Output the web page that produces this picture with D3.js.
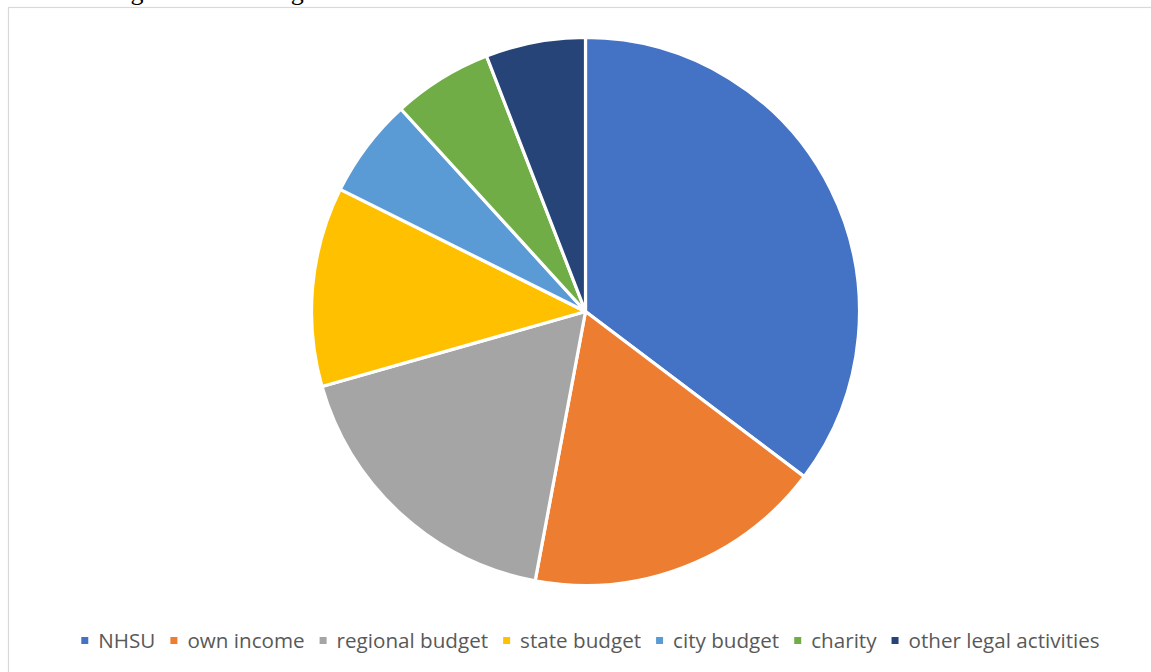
<!DOCTYPE html>
<html>
<head>
<meta charset="utf-8">
<script src="https://cdn.jsdelivr.net/npm/d3@7"></script>
<style>
  html, body { margin: 0; padding: 0; background: #fff; overflow: hidden; }
  svg { display: block; }
</style>
</head>
<body>
<svg id="chart" width="1151" height="672"></svg>
<script>
// Funding sources (relative shares)
const categories = ["NHSU", "own income", "regional budget", "state budget", "city budget", "charity", "other legal activities"];
const values = [6, 3, 3, 2, 1, 1, 1];
const colors = ["#4472C4", "#ED7D31", "#A5A5A5", "#FFC000", "#5B9BD5", "#70AD47", "#264478"];

const svg = d3.select("#chart");
const W = 1151, H = 672;

// Line of body text above the chart box (runs off the top edge of the page)
svg.append("text")
  .attr("x", -50).attr("y", -0.5)
  .attr("font-family", "Liberation Serif, Times New Roman, serif")
  .attr("font-size", 26)
  .attr("fill", "#000")
  .text("sources of funding is shown in figure 3.");

// Chart area frame
svg.append("rect")
  .attr("x", 8.5).attr("y", 7.5)
  .attr("width", W + 20).attr("height", H + 20)
  .attr("fill", "#fff")
  .attr("stroke", "#d9d9d9")
  .attr("stroke-width", 1.2);

// Pie
const cx = 585.5, cy = 311.5, r = 274;
const color = d3.scaleOrdinal().domain(categories).range(colors);
const pie = d3.pie().value(d => d.v).sort(null);
const arc = d3.arc().innerRadius(0).outerRadius(r);
const data = categories.map((c, i) => ({ c, v: values[i] }));

svg.append("g")
  .attr("transform", `translate(${cx},${cy})`)
  .selectAll("path")
  .data(pie(data))
  .join("path")
  .attr("d", arc)
  .attr("fill", d => color(d.data.c))
  .attr("stroke", "#fff")
  .attr("stroke-width", 3.2)
  .attr("stroke-linejoin", "round");

// Legend
const legendLeft = 81, legendRight = 1100, baseline = 648;
const marker = 7, markerGap = 10, itemGap = 15;
const legend = svg.append("g");
const font = "Open Sans, Noto Sans, sans-serif";

function layout(fs) {
  legend.selectAll("*").remove();
  const items = legend.selectAll("g").data(categories).join("g");
  items.append("rect")
    .attr("width", marker).attr("height", marker)
    .attr("fill", d => color(d));
  items.append("text")
    .attr("font-family", font)
    .attr("font-size", fs)
    .attr("fill", "#595959")
    .text(d => d);
  let total = 0;
  const widths = [];
  items.select("text").each(function () { widths.push(this.getComputedTextLength()); });
  widths.forEach((w, i) => { total += marker + markerGap + w + (i < widths.length - 1 ? itemGap : 0); });
  return { items, widths, total };
}

const fixed = categories.length * (marker + markerGap) + (categories.length - 1) * itemGap;
let fs = 19.5;
let res = layout(fs);
fs = fs * (legendRight - legendLeft - fixed) / (res.total - fixed);
res = layout(fs);

let x = (legendLeft + legendRight) / 2 - res.total / 2;
res.items.each(function (d, i) {
  const g = d3.select(this);
  g.select("rect").attr("x", x).attr("y", baseline - 11);
  g.select("text").attr("x", x + marker + markerGap).attr("y", baseline);
  x += marker + markerGap + res.widths[i] + itemGap;
});
</script>
</body>
</html>
